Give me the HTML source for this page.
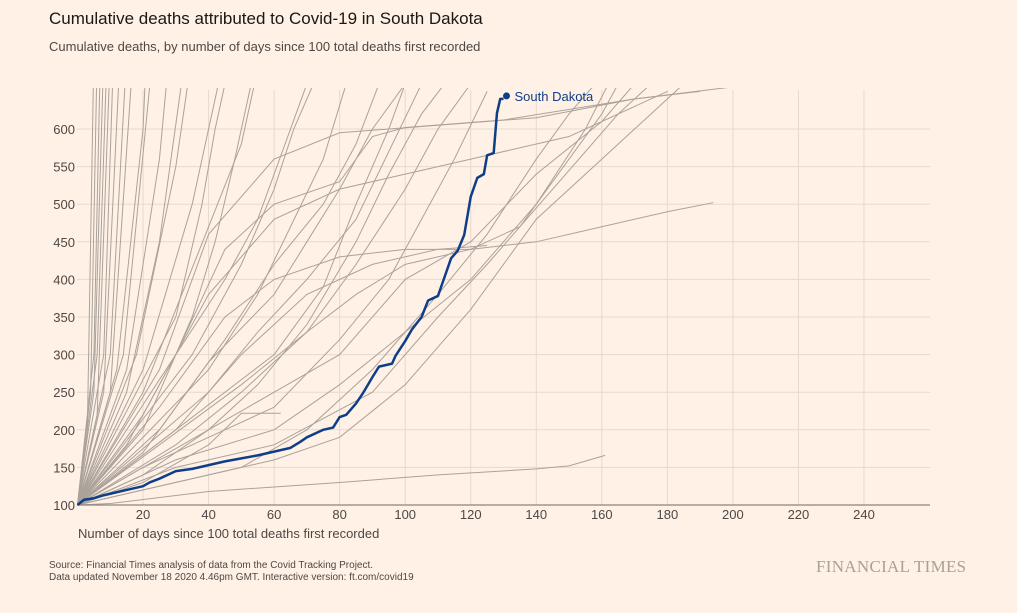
<!DOCTYPE html>
<html><head><meta charset="utf-8"><style>
body{margin:0;background:#fff1e5;font-family:"Liberation Sans",sans-serif;}
#wrap{position:relative;width:1017px;height:613px;overflow:hidden;background:#fff1e5}
.t{position:absolute;white-space:nowrap}
</style></head><body>
<div id="wrap">
<div class="t" style="left:49px;top:9px;font-size:17px;color:#1a1817">Cumulative deaths attributed to Covid-19 in South Dakota</div>
<div class="t" style="left:49px;top:39px;font-size:13px;color:#4d4845">Cumulative deaths, by number of days since 100 total deaths first recorded</div>
<svg id="chart" width="1017" height="613" style="position:absolute;left:0;top:0"></svg>
<div class="t" style="left:78px;top:526px;font-size:13px;color:#4d4845">Number of days since 100 total deaths first recorded</div>
<div class="t" style="left:49px;top:560px;font-size:10px;color:#4d4845;line-height:12px">Source: Financial Times analysis of data from the Covid Tracking Project.<br>Data updated November 18 2020 4.46pm GMT. Interactive version: ft.com/covid19</div>
<div class="t" style="left:816px;top:557px;font-size:17px;color:#a8a19a;font-family:'Liberation Serif',serif;letter-spacing:0.3px">FINANCIAL TIMES</div>
</div>
<script>
const xTicks=[20,40,60,80,100,120,140,160,180,200,220,240];
const yTicks=[100,150,200,250,300,350,400,450,500,550,600];
const sdDays=[0,2,5,8,10,15,20,22,25,30,35,40,45,50,55,60,65,68,70,75,78,80,82,85,87,90,92,96,97,100,102,105,107,110,112,114,116,118,120,122,124,125,127,128,129,130];
const sdVals=[100,107,109,113,115,120,125,130,135,145,148,153,158,162,166,171,176,184,190,200,203,217,220,235,248,270,284,288,298,318,333,350,372,378,403,428,438,459,510,535,540,565,568,621,640,640];
const grey=[
[[0,100],[3,200],[5,700]],[[0,100],[4,250],[6,700]],[[0,100],[5,300],[7,700]],[[0,100],[5,250],[8,700]],
[[0,100],[6,300],[9,700]],[[0,100],[6,220],[10,700]],[[0,100],[8,300],[11,700]],[[0,100],[8,250],[13,700]],
[[0,100],[10,300],[15,700]],[[0,100],[10,250],[17,700]],[[0,100],[12,280],[20,600],[21,700]],[[0,100],[14,300],[23,700]],
[[0,100],[15,280],[25,560],[28,700]],[[0,100],[15,250],[25,450],[33,700]],[[0,100],[18,300],[30,550],[35,700]],
[[0,100],[20,280],[35,500],[45,700]],[[0,100],[20,250],[40,470],[50,580],[56,700]],
[[0,100],[25,280],[40,460],[60,560],[80,595],[110,605],[140,615],[170,640],[200,656]],
[[0,100],[20,220],[40,380],[60,480],[80,520],[100,540],[120,560],[150,590],[180,650]],
[[0,100],[15,180],[30,300],[45,440],[60,500],[80,530],[90,590],[100,602],[130,612],[170,640],[190,650]],
[[0,100],[25,230],[45,350],[60,400],[80,430],[100,440],[120,440],[140,450],[160,470],[180,490],[194,502]],
[[0,100],[30,200],[50,300],[70,380],[90,420],[110,440],[125,445]],
[[0,100],[20,130],[40,180],[50,222],[62,222]],
[[0,100],[10,102],[40,118],[80,130],[110,140],[140,148],[150,152],[161,166]],
[[0,100],[20,150],[40,190],[60,230],[80,320],[95,400],[105,480],[115,560],[125,650]],
[[0,100],[30,180],[50,250],[70,330],[85,420],[100,520],[110,600],[120,660]],
[[0,100],[20,140],[40,200],[60,250],[80,300],[100,400],[120,450],[140,540],[160,610],[170,660]],
[[0,100],[30,160],[60,200],[80,260],[100,330],[120,400],[140,500],[155,600],[162,660]],
[[0,100],[20,170],[40,290],[60,380],[70,450],[80,520],[90,600],[100,660]],
[[0,100],[25,200],[45,320],[60,420],[75,500],[85,580],[92,660]],
[[0,100],[40,250],[55,330],[70,400],[85,480],[95,570],[105,660]],
[[0,100],[50,150],[70,200],[90,280],[110,380],[125,460],[140,560],[150,620],[158,660]],
[[0,100],[30,150],[60,180],[90,250],[110,350],[125,420],[145,520],[165,620],[175,660]],
[[0,100],[40,280],[55,380],[65,470],[75,560],[82,660]],
[[0,100],[35,300],[50,420],[60,520],[66,600],[72,660]],
[[0,100],[20,200],[35,350],[42,450],[48,560],[53,660]],
[[0,100],[30,350],[38,500],[42,600],[45,660]],
[[0,100],[60,160],[80,190],[100,260],[120,360],[140,480],[160,560],[175,620],[185,660]],
[[0,100],[50,260],[70,330],[85,380],[100,420],[120,440],[135,470],[150,560],[160,620],[165,660]],
[[0,100],[45,400],[55,480],[65,600],[70,660]],
[[0,100],[60,300],[75,390],[85,500],[95,600],[100,660]],
[[0,100],[40,200],[55,260],[70,340],[85,450],[95,540],[105,620],[112,660]]
];
const NS='http://www.w3.org/2000/svg';
const svg=document.getElementById('chart');
const X=d=>77.5+d*3.277, Y=v=>505-(v-100)*0.752;
function mk(t,a){const e=document.createElementNS(NS,t);for(const k in a)e.setAttribute(k,a[k]);svg.appendChild(e);return e;}
const defs=mk('defs',{});const cp=document.createElementNS(NS,'clipPath');cp.setAttribute('id','clip');
const r=document.createElementNS(NS,'rect');r.setAttribute('x',77);r.setAttribute('y',88);r.setAttribute('width',860);r.setAttribute('height',420);cp.appendChild(r);defs.appendChild(cp);
xTicks.forEach(t=>{const l=mk('line',{x1:X(t),x2:X(t),y1:90,y2:505,stroke:'#e6d9ce','stroke-width':1});

const tx=mk('text',{x:X(t),y:519,'text-anchor':'middle','font-size':13,fill:'#4d4845'});tx.textContent=t;
});
yTicks.forEach(t=>{if(t>100){const l=mk('line',{x1:77,x2:930,y1:Y(t),y2:Y(t),stroke:'#e6d9ce','stroke-width':1});
}
const tx=mk('text',{x:75,y:Y(t)+5,'text-anchor':'end','font-size':13,fill:'#4d4845'});tx.textContent=t;
});
const g=mk('g',{'clip-path':'url(#clip)'});
grey.forEach(s=>{const p=document.createElementNS(NS,'polyline');
p.setAttribute('points',s.map(q=>X(q[0])+','+Y(q[1])).join(' '));
p.setAttribute('fill','none');p.setAttribute('stroke','#aaa29b');p.setAttribute('stroke-width','1');


g.appendChild(p);});
const ax=mk('line',{x1:77,x2:930,y1:505,y2:505,stroke:'#8c857f','stroke-width':1.2});

const pts=sdDays.map((d,i)=>X(d)+','+Y(sdVals[i]));
const sd=mk('polyline',{points:pts.join(' '),fill:'none',stroke:'#0f3e89','stroke-width':2.5,'stroke-linejoin':'round'});

const li=sdDays.length-1;
const dot=mk('circle',{cx:X(sdDays[li])+3,cy:Y(sdVals[li])-3,r:3.5,fill:'#0f3e89'});

const lb=mk('text',{x:X(sdDays[li])+11,y:Y(sdVals[li])+2,'font-size':13,fill:'#0f3e89'});lb.textContent='South Dakota';

</script>
</body></html>
